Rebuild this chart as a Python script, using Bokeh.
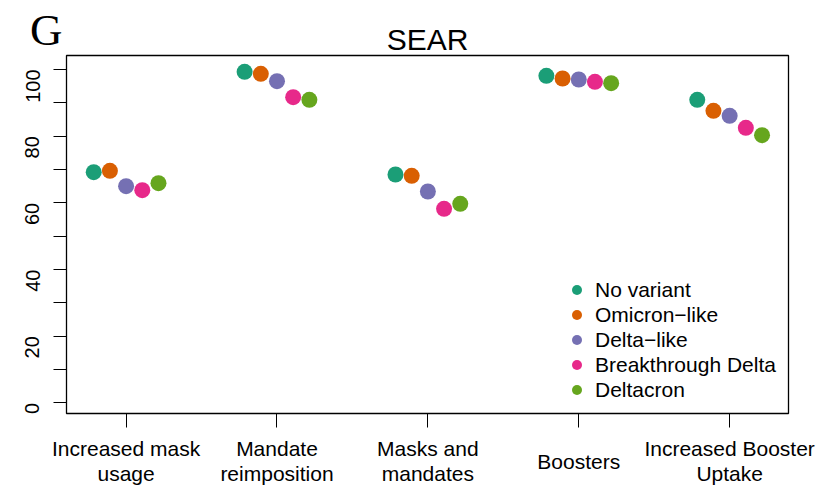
import math
from bokeh.plotting import figure
from bokeh.models import (Range1d, FixedTicker, Label, LabelSet, ColumnDataSource,
                          BoxAnnotation)
from bokeh.core.properties import value
from bokeh.embed import file_html
from bokeh.resources import INLINE

# ---- data ----
categories = ["Increased mask\nusage", "Mandate\nreimposition", "Masks and\nmandates",
              "Boosters", "Increased Booster\nUptake"]
cat_pos = [1, 2, 3, 4, 5]
series_names = ["No variant", "Omicron\u2212like", "Delta\u2212like", "Breakthrough Delta", "Deltacron"]
no_variant = [69.2, 99.3, 68.5, 98.1, 90.9]
omicron_like = [69.6, 98.7, 68.1, 97.3, 87.6]
delta_like = [65.0, 96.5, 63.4, 97.0, 86.1]
breakthrough_delta = [63.8, 91.7, 58.2, 96.3, 82.5]
deltacron = [65.9, 90.9, 59.7, 95.9, 80.3]
colors = ["#1B9E77", "#D95F02", "#7570B3", "#E7298A", "#66A61E"]
y_ticks = [0, 10, 20, 30, 40, 50, 60, 70, 80, 90, 100]
title = "SEAR"
panel_letter = "G"

series = [no_variant, omicron_like, delta_like, breakthrough_delta, deltacron]

# ---- layout ----
W, H = 823, 488
PL, PR, PT, PB = 66, 788, 55, 413          # plot box in canvas pixels
XMIN, XMAX, YMIN, YMAX = 0.605, 5.39, -3.2, 104.2
kx = (PR - PL) / (XMAX - XMIN)
ky = (PB - PT) / (YMAX - YMIN)
x_range = Range1d(XMIN - PL / kx, XMAX + (W - PR) / kx)
y_range = Range1d(YMIN - (H - PB) / ky, YMAX + PT / ky)
step = 0.1073
LABEL_MID = 460.5      # vertical centre of the category label block (px from top)
LINE_GAP = 25

p = figure(width=W, height=H, output_backend="svg", toolbar_location=None,
           x_range=x_range, y_range=y_range,
           min_border_left=0, min_border_right=0, min_border_top=0, min_border_bottom=0)
p.background_fill_color = "white"
p.border_fill_color = "white"
p.outline_line_color = None
p.xgrid.visible = False
p.ygrid.visible = False

# plot box
p.add_layout(BoxAnnotation(left=XMIN, right=XMAX, bottom=YMIN, top=YMAX,
                           fill_alpha=0, line_color="black", line_alpha=1.0, line_width=1.3))

for i, (vals, name, col) in enumerate(zip(series, series_names, colors)):
    xs = [c + (i - 2) * step for c in cat_pos]
    p.scatter(xs, vals, size=16, fill_color=col, line_color=None, legend_label=name)

# y axis
ya = p.yaxis[0]
ya.fixed_location = XMIN
ya.ticker = FixedTicker(ticks=y_ticks)
ya.major_label_overrides = {t: ("" if t % 20 else str(t)) for t in y_ticks}
ya.major_label_orientation = math.pi / 2
ya.major_tick_out = 13
ya.major_tick_in = 0
ya.minor_tick_out = 0
ya.minor_tick_in = 0
ya.axis_line_color = None
ya.major_tick_line_color = "black"
ya.major_label_standoff = 21
ya.major_label_text_font = "Liberation Sans"
ya.major_label_text_font_size = "20px"
ya.major_label_text_color = "black"

# x axis (ticks; category labels set below)
xa = p.xaxis[0]
xa.fixed_location = YMIN
xa.ticker = FixedTicker(ticks=cat_pos)
xa.major_label_overrides = {c: "" for c in cat_pos}
xa.major_tick_out = 14
xa.major_tick_in = 0
xa.minor_tick_out = 0
xa.minor_tick_in = 0
xa.axis_line_color = None
xa.major_tick_line_color = "black"

# category labels: each line centred, block centred vertically (as R's mtext)
lx, ly, lt = [], [], []
for c, lab in zip(cat_pos, categories):
    lines = lab.split("\n")
    n = len(lines)
    for j, line in enumerate(lines):
        top_px = LABEL_MID + (j - (n - 1) / 2) * LINE_GAP
        lx.append(c)
        ly.append(H - top_px)
        lt.append(line)
lab_src = ColumnDataSource(dict(x=lx, y=ly, text=lt))
p.add_layout(LabelSet(x="x", y="y", y_units="screen", text="text", source=lab_src,
                      text_align="center", text_baseline="middle",
                      text_font=value("Liberation Sans"), text_font_size=value("21px"),
                      text_color="black"))

# title and panel letter
p.add_layout(Label(x=(XMIN + XMAX) / 2, y=H - 39.3, y_units="screen", text=title,
                   text_font="Liberation Sans", text_font_size="30px",
                   text_align="center", text_baseline="middle", text_color="black"))
p.add_layout(Label(x=29.5, y=H - 29.2, x_units="screen", y_units="screen", text=panel_letter,
                   text_font="Liberation Serif", text_font_size="45px",
                   text_baseline="middle", text_color="black"))

lg = p.legend[0]
lg.location = (564, H - 413 + 11)
lg.padding = 0
lg.margin = 0
lg.spacing = 0
lg.glyph_height = 25
lg.glyph_width = 25
lg.label_height = 25
lg.label_standoff = 6
lg.border_line_color = None
lg.background_fill_alpha = 0
lg.label_text_font = "Liberation Sans"
lg.label_text_font_size = "21px"
lg.label_text_color = "black"

open("out.html", "w").write(file_html(p, INLINE))
